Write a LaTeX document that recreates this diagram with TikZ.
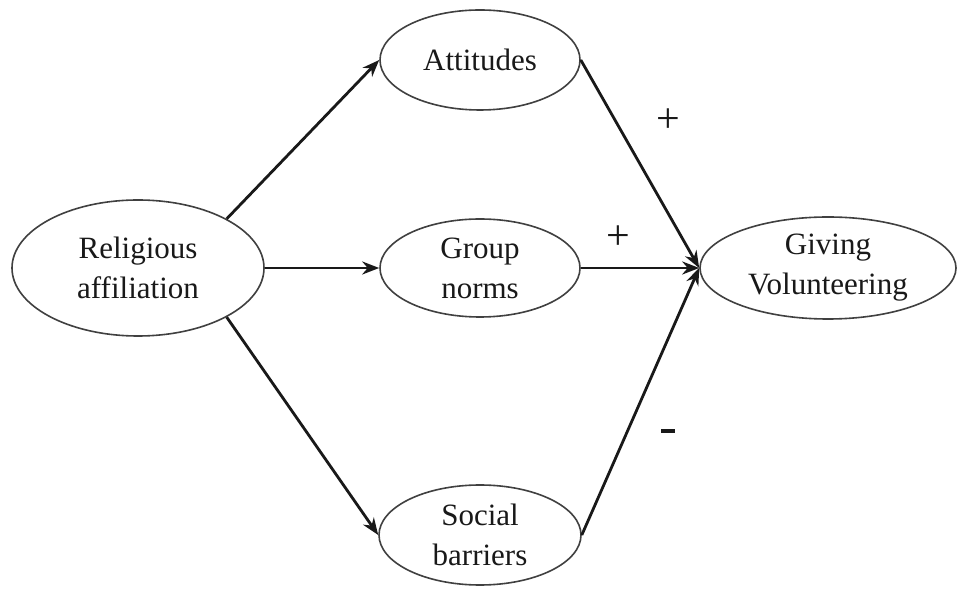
\documentclass[tikz,border=0pt]{standalone}
\usepackage{fontspec}
\setmainfont{Liberation Serif}
\usetikzlibrary{shapes.geometric,arrows.meta}
\begin{document}
\begin{tikzpicture}[x=1pt,y=1pt,
  concept/.style={ellipse,draw=black!75,line width=1.6pt,inner sep=0pt,
    align=center,font=\fontsize{31}{40}\selectfont,text=black!90},
  link/.style={line width=2.8pt,draw=black!90,
    -{Stealth[length=17pt,width=13pt]}},
  sign/.style={font=\fontsize{42}{44}\selectfont,text=black!90}]
\useasboundingbox (0,0) rectangle (960,589);
\fill[white] (0,0) rectangle (960,589);

% constructs
\node[concept,minimum width=252pt,minimum height=136pt] (rel) at (138,321) {Religious\\affiliation};
\node[concept,minimum width=200pt,minimum height=100pt] (att) at (480,529) {\raisebox{-4pt}{Attitudes}};
\node[concept,minimum width=200pt,minimum height=98pt] (grp) at (480,321) {Group\\norms};
\node[concept,minimum width=202pt,minimum height=100pt] (soc) at (480,54) {Social\\barriers};
\node[concept,minimum width=256pt,minimum height=102pt] (giv) at (828,321) {Giving\\Volunteering};

% paths from affiliation to mediators
\draw[link] (rel.29) -- (att.west);
\draw[link] (rel.east) -- (grp.west);
\draw[link] (rel.-29) -- (soc.west);

% paths from mediators to outcome
\draw[link] (att.east) -- (giv.west);
\draw[link] (grp.east) -- (giv.west);
\draw[link] (soc.east) -- (giv.west);

% signs of the effects
\node[sign] (s1) at (668,468) {+};
\node[sign] (s2) at (618,351) {+};
\node[sign] (s3) at (668,158) {\rule{14pt}{4.5pt}};
\end{tikzpicture}
\end{document}
